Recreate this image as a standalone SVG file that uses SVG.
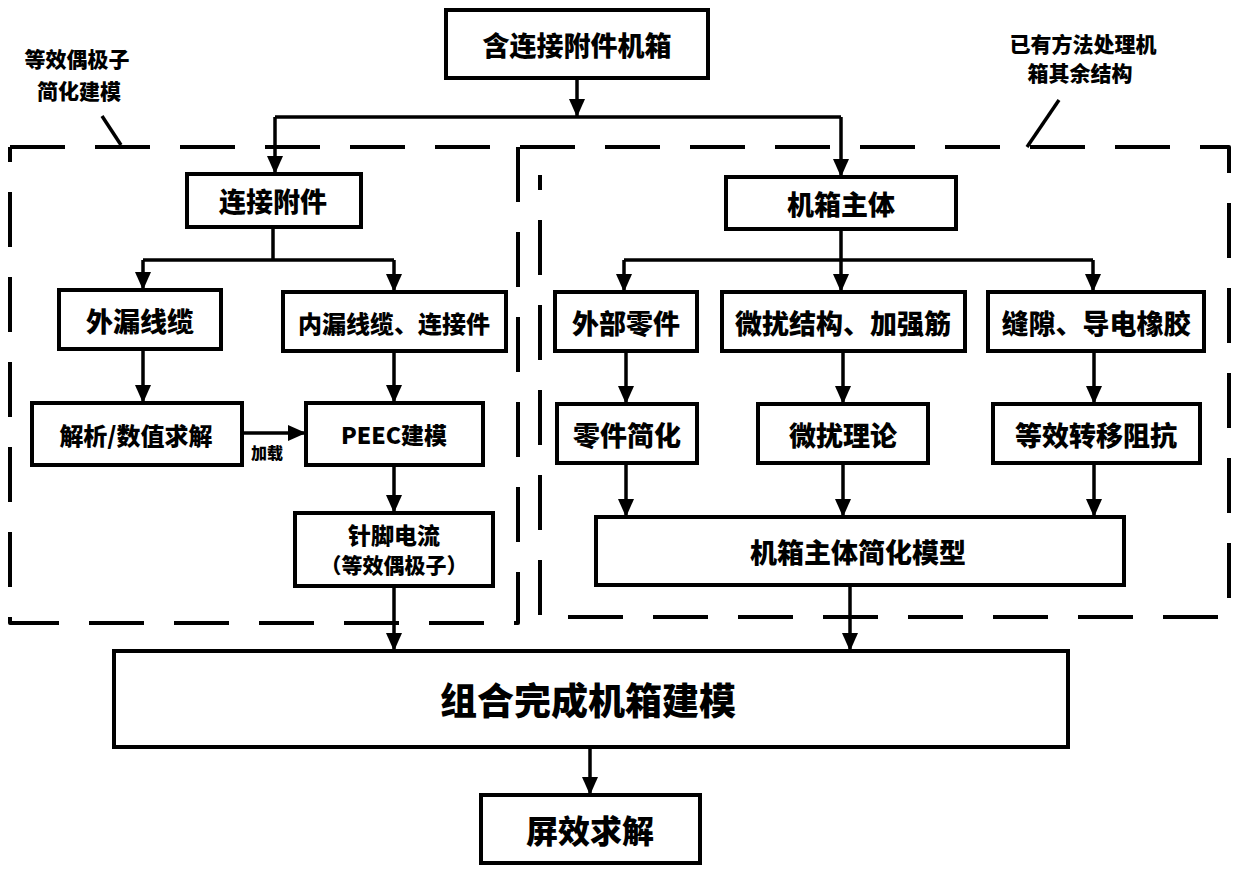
<svg xmlns="http://www.w3.org/2000/svg" width="1240" height="872" viewBox="0 0 1240 872">
<style>
.box{fill:#fff;stroke:#000;stroke-width:4;}
.t{font-family:"Noto Sans CJK SC","Noto Sans",sans-serif;font-weight:900;fill:#000;text-anchor:middle;dominant-baseline:central;}
.c{fill:none;stroke:#000;stroke-width:3.5;}
.a{fill:none;stroke:#000;stroke-width:3.5;marker-end:url(#arr);}
.d{fill:none;stroke:#000;stroke-width:4;stroke-dasharray:55 30;stroke-linejoin:round;}
</style>
<defs>
<marker id="arr" viewBox="0 0 18 16" refX="18" refY="8" markerWidth="18" markerHeight="16" markerUnits="userSpaceOnUse" orient="auto">
<path d="M0,0 L18,8 L0,16 z" fill="#000"/>
</marker>
</defs>
<rect width="1240" height="872" fill="#fff"/>
<g id="regions">
<path class="d" d="M10,147 H1229 V617 H540 V175"/>
<path class="d" d="M518,147 V623 H10 V147"/>
<path class="c" d="M102,116 L121,145"/>
<path class="c" d="M1059,100 L1027,147"/>
<text class="t" x="77" y="58" font-size="21">等效偶极子</text>
<text class="t" x="79" y="90" font-size="21">简化建模</text>
<text class="t" x="1083" y="43" font-size="21">已有方法处理机</text>
<text class="t" x="1080" y="72" font-size="21">箱其余结构</text>
</g>
<g id="connectors">
<path class="a" d="M577,78 V117"/>
<path class="c" d="M275,117 H841"/>
<path class="a" d="M275,117 V174"/>
<path class="a" d="M841,117 V177"/>
<path class="c" d="M273,227 V260"/>
<path class="c" d="M143,260 H394"/>
<path class="a" d="M143,260 V290"/>
<path class="a" d="M394,260 V292"/>
<path class="a" d="M143,349 V403"/>
<path class="a" d="M394,351 V403"/>
<path class="a" d="M242,433 H306"/>
<path class="a" d="M394,465 V513"/>
<path class="a" d="M394,586 V651"/>
<path class="c" d="M841,229 V260"/>
<path class="c" d="M624,260 H1093"/>
<path class="a" d="M624,260 V292"/>
<path class="a" d="M841,260 V292"/>
<path class="a" d="M1093,260 V292"/>
<path class="a" d="M626,351 V404"/>
<path class="a" d="M843,351 V404"/>
<path class="a" d="M1094,351 V404"/>
<path class="a" d="M626,463 V517"/>
<path class="a" d="M843,463 V517"/>
<path class="a" d="M1094,463 V517"/>
<path class="a" d="M850,585 V651"/>
<path class="a" d="M590,747 V795"/>
<text class="t" x="267" y="452" font-size="16">加载</text>
</g>
<g id="n-top"><rect class="box" x="446" y="10" width="262" height="68"/><text class="t" x="577" y="44" font-size="27">含连接附件机箱</text></g>
<g id="n-ljfj"><rect class="box" x="187" y="174" width="174" height="53"/><text class="t" x="273" y="200" font-size="27">连接附件</text></g>
<g id="n-jxzt"><rect class="box" x="726" y="177" width="230" height="52"/><text class="t" x="841" y="203" font-size="27">机箱主体</text></g>
<g id="n-wlxl"><rect class="box" x="59" y="290" width="162" height="59"/><text class="t" x="140" y="320" font-size="27">外漏线缆</text></g>
<g id="n-nlxl"><rect class="box" x="283" y="292" width="223" height="59"/><text class="t" x="394" y="322" font-size="24">内漏线缆、连接件</text></g>
<g id="n-jx"><rect class="box" x="32" y="403" width="210" height="62"/><text class="t" x="136" y="434" font-size="24">解析/数值求解</text></g>
<g id="n-peec"><rect class="box" x="306" y="403" width="177" height="62"/><text class="t" x="394" y="434" font-size="23">PEEC建模</text></g>
<g id="n-zj"><rect class="box" x="295" y="513" width="198" height="73"/><text class="t" x="394" y="534" font-size="23">针脚电流</text><text class="t" x="394" y="564" font-size="21">（等效偶极子）</text></g>
<g id="n-wbqj"><rect class="box" x="555" y="292" width="142" height="59"/><text class="t" x="626" y="322" font-size="27">外部零件</text></g>
<g id="n-wrjg"><rect class="box" x="722" y="292" width="243" height="59"/><text class="t" x="843" y="322" font-size="27">微扰结构、加强筋</text></g>
<g id="n-fx"><rect class="box" x="988" y="292" width="216" height="59"/><text class="t" x="1096" y="322" font-size="27">缝隙、导电橡胶</text></g>
<g id="n-ljjh"><rect class="box" x="557" y="404" width="140" height="59"/><text class="t" x="627" y="434" font-size="27">零件简化</text></g>
<g id="n-wrll"><rect class="box" x="758" y="404" width="170" height="59"/><text class="t" x="843" y="434" font-size="27">微扰理论</text></g>
<g id="n-dxzy"><rect class="box" x="993" y="404" width="207" height="59"/><text class="t" x="1096" y="434" font-size="27">等效转移阻抗</text></g>
<g id="n-jxjh"><rect class="box" x="596" y="517" width="528" height="68"/><text class="t" x="858" y="551" font-size="27">机箱主体简化模型</text></g>
<g id="n-zh"><rect class="box" x="114" y="651" width="954" height="96"/><text class="t" x="588" y="699" font-size="37">组合完成机箱建模</text></g>
<g id="n-px"><rect class="box" x="481" y="795" width="219" height="68"/><text class="t" x="590" y="829" font-size="32">屏效求解</text></g>
</svg>
